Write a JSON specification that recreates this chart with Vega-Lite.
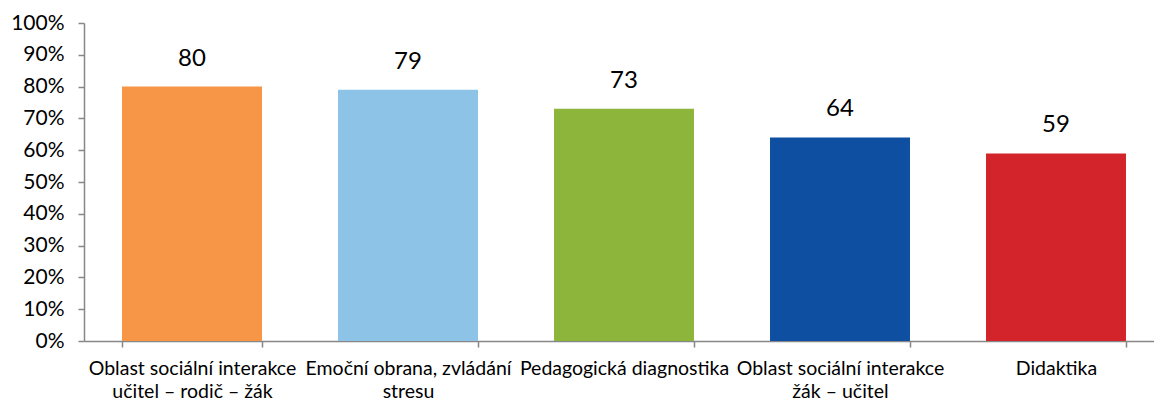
{
  "$schema": "https://vega.github.io/schema/vega-lite/v6.json",
  "autosize": "none",
  "padding": {"left": 84, "top": 23, "right": 0, "bottom": 62},
  "width": 1080,
  "height": 318,
  "background": "white",
  "data": {
    "values": [
      {"oblast": "Oblast sociální interakce\nučitel – rodič –  žák", "hodnota": 80, "poradi": 1},
      {"oblast": "Emoční obrana, zvládání\nstresu", "hodnota": 79, "poradi": 2},
      {"oblast": "Pedagogická diagnostika", "hodnota": 73, "poradi": 3},
      {"oblast": "Oblast sociální interakce\nžák – učitel", "hodnota": 64, "poradi": 4},
      {"oblast": "Didaktika", "hodnota": 59, "poradi": 5}
    ]
  },
  "config": {
    "view": {"stroke": null},
    "font": "Lato",
    "axis": {"labelFont": "Lato", "labelColor": "black", "domainColor": "#878787", "tickColor": "#878787", "domainWidth": 1.5, "tickWidth": 1.5}
  },
  "encoding": {
    "x": {
      "field": "oblast",
      "type": "nominal",
      "sort": {"field": "poradi"},
      "scale": {"paddingInner": 0.352, "paddingOuter": 0.176},
      "axis": {
        "title": null,
        "labelAngle": 0,
        "labelFontSize": 19.5,
        "labelLimit": 400,
        "labelLineHeight": 23,
        "labelPadding": 12,
        "tickSize": 6,
        "tickBand": "extent",
        "labelExpr": "split(datum.label, '\\n')"
      }
    },
    "y": {
      "field": "hodnota",
      "type": "quantitative",
      "scale": {"domain": [0, 100], "nice": false},
      "axis": {
        "title": null,
        "values": [0, 10, 20, 30, 40, 50, 60, 70, 80, 90, 100],
        "labelExpr": "datum.value + '%'",
        "labelFontSize": 21,
        "labelPadding": 14,
        "tickSize": 6,
        "grid": false
      }
    }
  },
  "layer": [
    {
      "mark": {"type": "bar"},
      "encoding": {
        "color": {
          "field": "oblast",
          "type": "nominal",
          "sort": {"field": "poradi"},
          "scale": {"range": ["#F79646", "#8DC3E7", "#8DB53C", "#0E4FA2", "#D3242B"]},
          "legend": null
        }
      }
    },
    {
      "mark": {"type": "text", "baseline": "bottom", "dy": -16, "fontSize": 24, "color": "black"},
      "encoding": {"text": {"field": "hodnota", "type": "quantitative"}}
    }
  ]
}
